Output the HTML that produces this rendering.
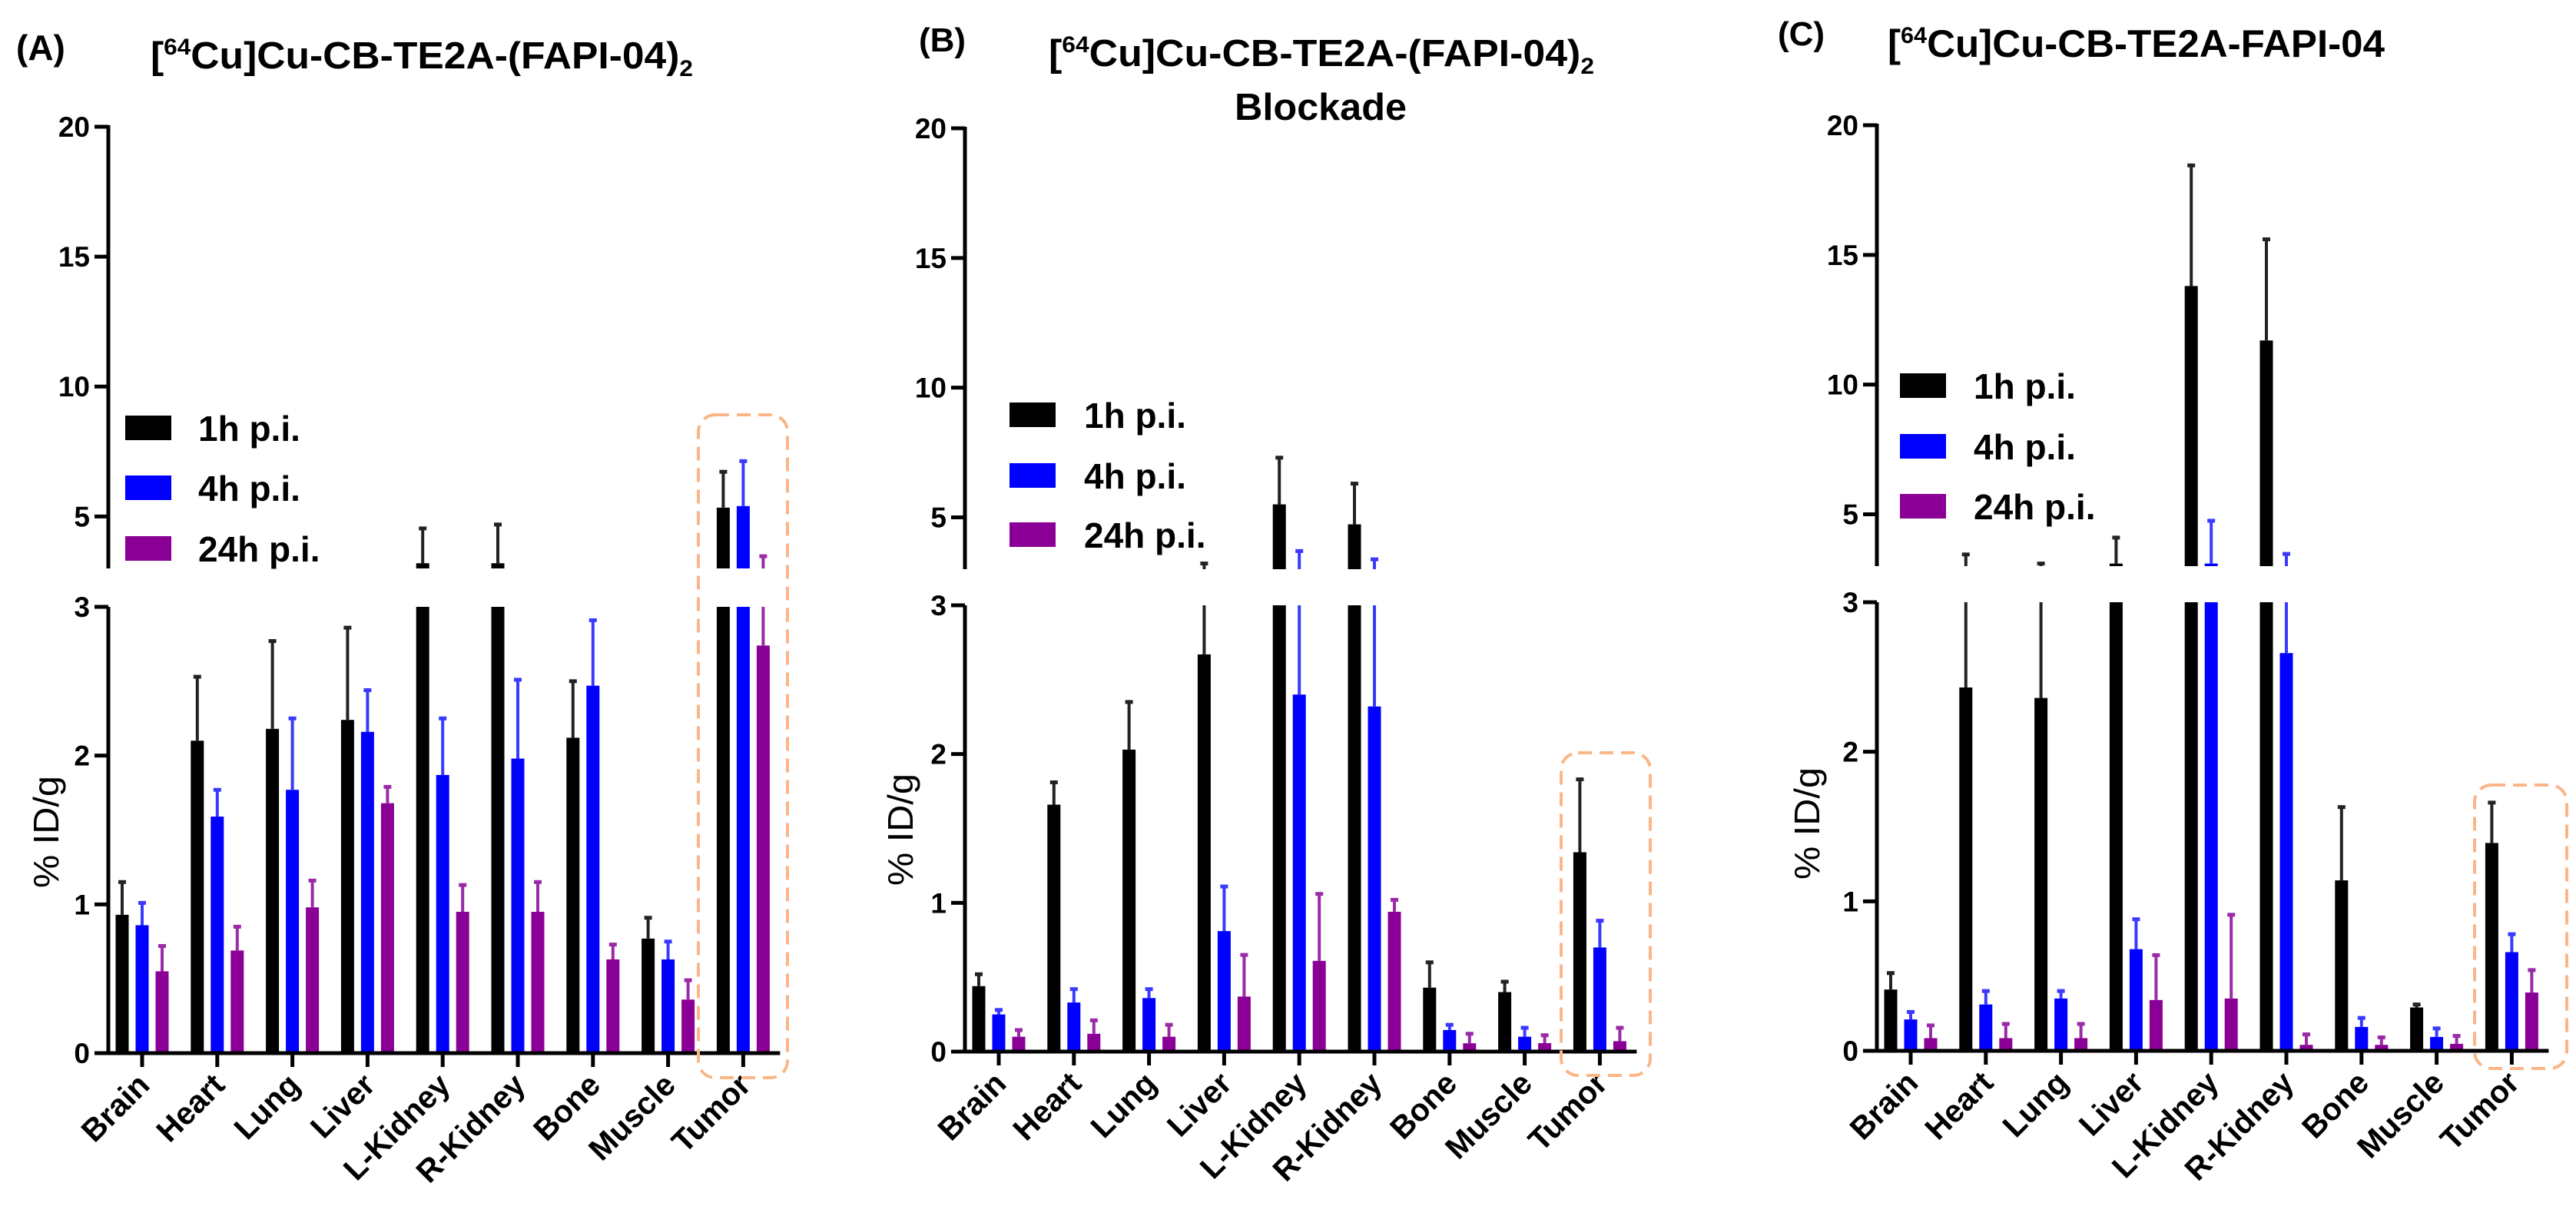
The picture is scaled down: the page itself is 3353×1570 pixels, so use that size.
<!DOCTYPE html>
<html><head><meta charset="utf-8">
<style>
html,body{margin:0;padding:0;background:#fff;}
svg{display:block;}
text{font-family:"Liberation Sans",Arial,sans-serif;}
</style></head>
<body>
<svg id="fig" xmlns="http://www.w3.org/2000/svg" width="3353" height="1570" viewBox="0 0 3353 1570">
  <g font-weight="bold" fill="#000">
    <text x="21" y="78" font-size="46">(A)</text>
    <text x="196" y="89" font-size="49" textLength="706" lengthAdjust="spacingAndGlyphs">[<tspan font-size="30" dy="-18">64</tspan><tspan dy="18">Cu]Cu-CB-TE2A-(FAPI-04)</tspan><tspan font-size="30" dy="10">2</tspan></text>
  </g>
  <g font-weight="bold" fill="#000">
    <text x="1196" y="67" font-size="44">(B)</text>
    <text x="1365" y="86" font-size="49" textLength="710" lengthAdjust="spacingAndGlyphs">[<tspan font-size="30" dy="-18">64</tspan><tspan dy="18">Cu]Cu-CB-TE2A-(FAPI-04)</tspan><tspan font-size="30" dy="10">2</tspan></text>
    <text x="1607" y="156" font-size="49" textLength="224" lengthAdjust="spacingAndGlyphs">Blockade</text>
  </g>
  <g font-weight="bold" fill="#000">
    <text x="2314" y="59" font-size="44">(C)</text>
    <text x="2457" y="74" font-size="50" textLength="647" lengthAdjust="spacingAndGlyphs">[<tspan font-size="30" dy="-18">64</tspan><tspan dy="18">Cu]Cu-CB-TE2A-FAPI-04</tspan></text>
  </g>
</svg>
<script>
const categories = ["Brain","Heart","Lung","Liver","L-Kidney","R-Kidney","Bone","Muscle","Tumor"];
const seriesNames = ["1h p.i.","4h p.i.","24h p.i."];
const lowerTicks = [0,1,2,3];
const upperTicks = [5,10,15,20];

// Panel A: mean values and top of error bars
const a1hMean = [0.93,2.10,2.18,2.24,3.2,3.2,2.12,0.77,5.34];
const a1hTop  = [1.15,2.53,2.77,2.86,4.54,4.69,2.50,0.91,6.72];
const a4hMean = [0.86,1.59,1.77,2.16,1.87,1.98,2.47,0.63,5.40];
const a4hTop  = [1.01,1.77,2.25,2.44,2.25,2.51,2.91,0.75,7.13];
const a24hMean = [0.55,0.69,0.98,1.68,0.95,0.95,0.63,0.36,2.74];
const a24hTop  = [0.72,0.85,1.16,1.79,1.13,1.15,0.73,0.49,3.47];
// Panel B
const b1hMean = [0.44,1.66,2.03,2.67,5.5,4.73,0.43,0.40,1.34];
const b1hTop  = [0.52,1.81,2.35,3.22,7.3,6.3,0.60,0.47,1.83];
const b4hMean = [0.25,0.33,0.36,0.81,2.40,2.32,0.145,0.10,0.70];
const b4hTop  = [0.28,0.42,0.42,1.11,3.7,3.38,0.18,0.16,0.88];
const b24hMean = [0.10,0.12,0.10,0.37,0.61,0.94,0.056,0.057,0.07];
const b24hTop  = [0.145,0.21,0.18,0.65,1.06,1.02,0.12,0.11,0.16];
// Panel C
const c1hMean = [0.41,2.43,2.36,3.1,13.8,11.7,1.14,0.29,1.39];
const c1hTop  = [0.52,3.45,3.1,4.1,18.45,15.6,1.63,0.31,1.66];
const c4hMean = [0.21,0.31,0.35,0.68,3.1,2.66,0.16,0.093,0.66];
const c4hTop  = [0.26,0.40,0.40,0.88,4.75,3.47,0.22,0.15,0.78];
const c24hMean = [0.085,0.085,0.085,0.34,0.35,0.04,0.04,0.047,0.39];
const c24hTop  = [0.17,0.18,0.18,0.64,0.91,0.11,0.09,0.10,0.54];

const colors = ["#000000","#0000ff","#8a0096"];
const errColors = ["#222222","#3a3aff","#9a2aa6"];
const NS = "http://www.w3.org/2000/svg";
const svg = document.getElementById("fig");

function mk(tag, attrs, parent){
  const e = document.createElementNS(NS, tag);
  for (const k in attrs) e.setAttribute(k, attrs[k]);
  parent.appendChild(e);
  return e;
}

const panels = [
  {id:"a", axisX:141, zeroY:1371, threeY:790, upBottom:740, up20:165,
   means:[a1hMean,a4hMean,a24hMean], tops:[a1hTop,a4hTop,a24hTop],
   legX:163, legY:[557,635,714], legTextX:258, titleX:60, titleY:1083,
   box:[909,540,1025,1403]},
  {id:"b", axisX:1256, zeroY:1369, threeY:788, upBottom:741, up20:167,
   means:[b1hMean,b4hMean,b24hMean], tops:[b1hTop,b4hTop,b24hTop],
   legX:1314, legY:[540,619,696], legTextX:1411, titleX:1172, titleY:1080,
   box:[2032,980,2148,1400]},
  {id:"c", axisX:2443, zeroY:1368, threeY:784, upBottom:737, up20:163,
   means:[c1hMean,c4hMean,c24hMean], tops:[c1hTop,c4hTop,c24hTop],
   legX:2473, legY:[502,581,659], legTextX:2569, titleX:2352, titleY:1072,
   box:[3221,1022,3341,1391]}
];

panels.forEach(p => {
  const g = mk("g", {}, svg);
  
  
  const spacing = 97.8;
  const xC = i => p.axisX + 44 + i * spacing;
  const yL = v => p.zeroY - v * (p.zeroY - p.threeY) / 3;
  const yU = v => p.upBottom - (v - 3) * (p.upBottom - p.up20) / 17;
  const xEnd = xC(categories.length - 1) + 48;

  // bars
  const offs = [-26, 0, 26];
  const bw = 17;
  for (let s = 0; s < 3; s++) {
    for (let i = 0; i < categories.length; i++) {
      const m = p.means[s][i], t = p.tops[s][i];
      const cx = xC(i) + offs[s];
      const lowTop = yL(Math.min(m, 3));
      const r = mk("rect", {x: cx - bw/2, y: lowTop, width: bw, height: p.zeroY - lowTop, fill: colors[s]}, g);
      
      
      if (m > 3) {
        const r2 = mk("rect", {x: cx - bw/2, y: yU(m), width: bw, height: p.upBottom - yU(m), fill: colors[s]}, g);
        
        
      }
      // error bars
      const eg = mk("g", {stroke: errColors[s], "stroke-width": 4}, g);
      
      
      if (m < 3) {
        const yTop = yL(Math.min(t, 3));
        mk("line", {x1: cx, x2: cx, y1: yL(m), y2: yTop}, eg);
        if (t <= 3) mk("line", {x1: cx - 5, x2: cx + 5, y1: yTop, y2: yTop, "stroke-width": 5}, eg);
      }
      if (t > 3) {
        const yb = yU(Math.max(m, 3));
        mk("line", {x1: cx, x2: cx, y1: yb, y2: yU(t)}, eg);
        mk("line", {x1: cx - 5, x2: cx + 5, y1: yU(t), y2: yU(t), "stroke-width": 5}, eg);
      }
    }
  }

  // axes
  const ax = mk("g", {stroke: "#000", "stroke-width": 5, fill: "none"}, g);
  
  
  mk("line", {x1: p.axisX, x2: p.axisX, y1: p.threeY, y2: p.zeroY + 2.5}, ax);
  mk("line", {x1: p.axisX, x2: p.axisX, y1: p.up20 - 2, y2: p.upBottom}, ax);
  mk("line", {x1: p.axisX - 18, x2: xEnd, y1: p.zeroY, y2: p.zeroY}, ax);
  lowerTicks.forEach(v => mk("line", {x1: p.axisX - 18, x2: p.axisX, y1: yL(v), y2: yL(v)}, ax));
  upperTicks.forEach(v => mk("line", {x1: p.axisX - 18, x2: p.axisX, y1: yU(v), y2: yU(v)}, ax));
  categories.forEach((c, i) => mk("line", {x1: xC(i), x2: xC(i), y1: p.zeroY, y2: p.zeroY + 18}, ax));

  // tick labels
  lowerTicks.forEach(v => {
    const t = mk("text", {x: p.axisX - 24, y: yL(v) + 13, "text-anchor": "end", "font-size": 37, "font-weight": "bold"}, g);
    t.textContent = v;
    
    
  });
  upperTicks.forEach(v => {
    const t = mk("text", {x: p.axisX - 24, y: yU(v) + 13, "text-anchor": "end", "font-size": 37, "font-weight": "bold"}, g);
    t.textContent = v;
    
    
  });
  categories.forEach((c, i) => {
    const x = xC(i) + 12, y = p.zeroY + 44;
    const t = mk("text", {x: x, y: y, "text-anchor": "end", "font-size": 41, "font-weight": "bold", transform: "rotate(-45 " + x + " " + y + ")"}, g);
    t.textContent = c;
    
    
  });

  // y axis title
  const yt = mk("text", {x: p.titleX, y: p.titleY, "text-anchor": "middle", "font-size": 46, "dominant-baseline": "central", textLength: 146, lengthAdjust: "spacingAndGlyphs", transform: "rotate(-90 " + p.titleX + " " + p.titleY + ")"}, g);
  yt.textContent = "% ID/g";
  
  

  // legend
  seriesNames.forEach((n, s) => {
    const lg = mk("g", {}, g);
    
    
    mk("rect", {x: p.legX, y: p.legY[s] - 16, width: 60, height: 32, fill: colors[s]}, lg);
    const t = mk("text", {x: p.legTextX, y: p.legY[s] + 17, "font-size": 46, "font-weight": "bold"}, lg);
    t.textContent = n;
  });

  // highlight box
  const b = p.box;
  const bx = mk("rect", {x: b[0], y: b[1], width: b[2] - b[0], height: b[3] - b[1], rx: 22, ry: 22, fill: "none", stroke: "#fbb688", "stroke-width": 4, "stroke-dasharray": "18 10"}, g);
  
  
});
</script>
</body></html>
